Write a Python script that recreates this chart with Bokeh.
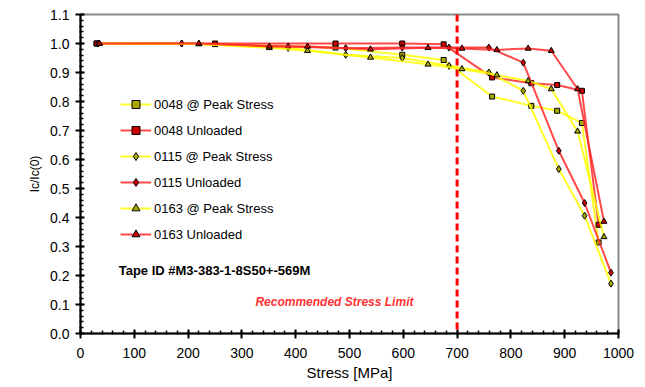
from bokeh.plotting import figure
from bokeh.models import Range1d, Span, Label, FixedTicker, Legend, CustomJSTickFormatter
from bokeh.embed import file_html
from bokeh.resources import INLINE

# ---- data ----
stress_0048 = [30, 250, 474, 598, 675, 765, 838, 886, 932, 963]
peak_0048 = [1.0, 0.998, 0.986, 0.961, 0.943, 0.817, 0.785, 0.768, 0.726, 0.314]
unl_0048 = [1.0, 1.0, 1.0, 1.0, 0.997, 0.883, 0.863, 0.857, 0.837, 0.375]

stress_0115 = [33, 188, 386, 493, 598, 685, 759, 823, 889, 937, 986]
peak_0115 = [1.0, 1.0, 0.985, 0.961, 0.95, 0.923, 0.90, 0.837, 0.567, 0.406, 0.172]
unl_0115 = [1.0, 1.0, 0.99, 0.984, 0.986, 0.986, 0.986, 0.934, 0.63, 0.45, 0.21]

stress_0163 = [35, 220, 351, 422, 539, 646, 709, 774, 832, 875, 924, 973]
peak_0163 = [1.0, 0.998, 0.985, 0.975, 0.952, 0.928, 0.912, 0.891, 0.871, 0.843, 0.697, 0.333]
unl_0163 = [1.0, 1.0, 0.99, 0.99, 0.98, 0.985, 0.983, 0.978, 0.983, 0.975, 0.843, 0.386]

limit_stress = 700
x_ticks = [0, 100, 200, 300, 400, 500, 600, 700, 800, 900, 1000]
y_ticks = [0.0, 0.1, 0.2, 0.3, 0.4, 0.5, 0.6, 0.7, 0.8, 0.9, 1.0, 1.1]

FONT = "Liberation Sans"
YEL = "#ffff00"
RED = "#ff2a2a"

p = figure(width=645, height=387, output_backend="svg", toolbar_location=None,
           x_range=Range1d(0, 1000), y_range=Range1d(0, 1.1),
           min_border_left=80, min_border_right=27, min_border_top=14, min_border_bottom=54)
p.grid.visible = False
p.outline_line_color = "#888888"
p.outline_line_width = 2
p.background_fill_color = "white"

series = [
    ("0048 @ Peak Stress", stress_0048, peak_0048, YEL, "#a8a800", "square", 5),
    ("0048 Unloaded", stress_0048, unl_0048, RED, "#cc0000", "square", 5),
    ("0115 @ Peak Stress", stress_0115, peak_0115, YEL, "#a8a800", "diamond", 7),
    ("0115 Unloaded", stress_0115, unl_0115, RED, "#cc0000", "diamond", 7),
    ("0163 @ Peak Stress", stress_0163, peak_0163, YEL, "#a8a800", "triangle", 6),
    ("0163 Unloaded", stress_0163, unl_0163, RED, "#cc0000", "triangle", 6),
]
items = []
for name, xs, ys, lc, fc, mk, sz in series:
    r1 = p.line(xs, ys, line_color=lc, line_width=2, line_alpha=0.85)
    r2 = p.scatter(xs, ys, marker=mk, size=sz, fill_color=fc, line_color="black", line_width=1)
    items.append((name, [r1, r2]))

legend = Legend(items=items, location=(40, 89), border_line_color=None,
                background_fill_alpha=0, padding=0, margin=0, spacing=6,
                glyph_width=31, glyph_height=20, label_standoff=3,
                label_text_font=FONT, label_text_font_size="13px", label_height=20,
                label_text_color="black")
p.add_layout(legend, "center")

p.add_layout(Span(location=limit_stress, dimension="height", line_color="#ff0000",
                  line_width=3, line_dash="7 4"))

p.add_layout(Label(x=71, y=0.216, text="Tape ID #M3-383-1-8S50+-569M", text_font=FONT,
                   text_font_size="13px", text_font_style="bold", text_baseline="middle",
                   text_color="black"))
p.add_layout(Label(x=472, y=0.109, text="Recommended Stress Limit", text_font=FONT,
                   text_font_size="12px", text_font_style="bold italic", text_baseline="middle",
                   text_align="center", text_color="#ff3333"))

for ax in (p.xaxis[0], p.yaxis[0]):
    ax.axis_line_width = 2
    ax.axis_line_color = "black"
    ax.major_tick_line_width = 2
    ax.major_tick_in = 4
    ax.major_tick_out = 5
    ax.minor_tick_in = 3
    ax.minor_tick_out = 1
    ax.minor_tick_line_width = 1.5
    ax.major_label_text_font = FONT
    ax.major_label_text_font_size = "14px"
    ax.major_label_text_color = "black"
    ax.axis_label_text_font = FONT
    ax.axis_label_text_font_style = "normal"
    ax.axis_label_text_color = "black"

p.xaxis.ticker = FixedTicker(ticks=x_ticks, minor_ticks=list(range(0, 1001, 20)))
p.yaxis.ticker = FixedTicker(ticks=y_ticks, minor_ticks=[i / 50 for i in range(0, 56)])
p.yaxis.formatter = CustomJSTickFormatter(code="return tick.toFixed(1);")
p.xaxis.major_label_standoff = 9
p.yaxis.major_label_standoff = 6
p.xaxis.axis_label = "Stress [MPa]"
p.xaxis.axis_label_text_font_size = "15px"
p.xaxis.axis_label_standoff = 3
p.yaxis.axis_label = "Ic/Ic(0)"
p.yaxis.axis_label_text_font_size = "12px"
p.yaxis.axis_label_standoff = 5

open("out.html", "w").write(file_html(p, INLINE))
